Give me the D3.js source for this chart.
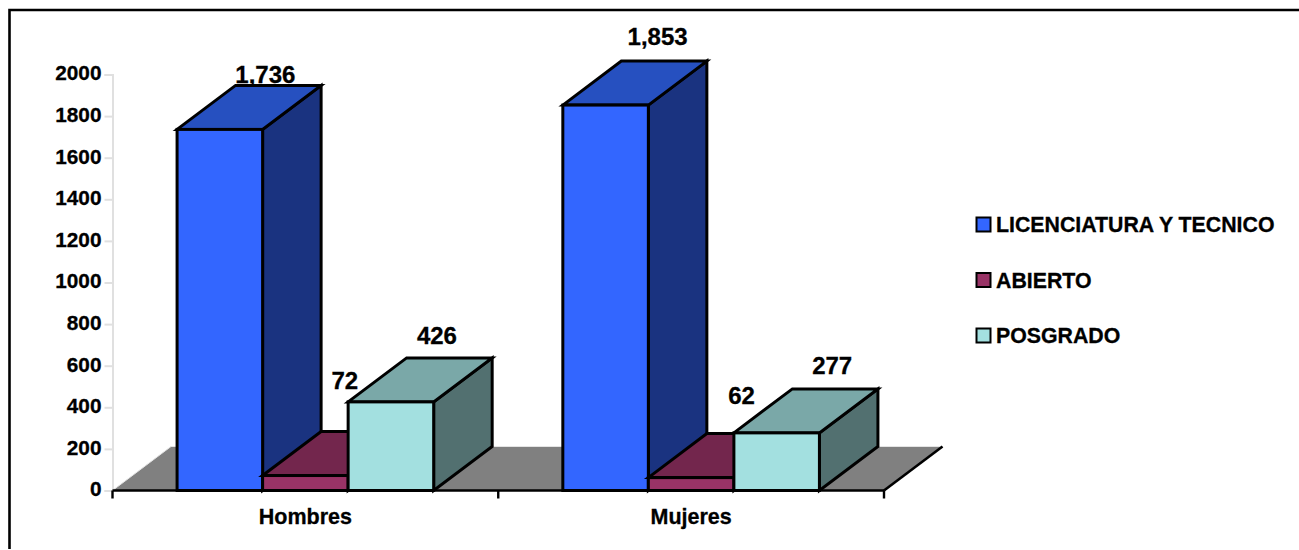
<!DOCTYPE html>
<html>
<head>
<meta charset="utf-8">
<script src="https://cdn.jsdelivr.net/npm/d3@7"></script>
<style>
  html, body { margin: 0; padding: 0; background: #fff; }
  svg { display: block; }
  text { font-family: "Liberation Sans", Arial, sans-serif; font-weight: bold; fill: #000; stroke: #000; stroke-width: 0.3px; }
</style>
</head>
<body>
<svg id="chart"></svg>
<script>
const categories = ["Hombres", "Mujeres"];
const seriesNames = ["LICENCIATURA Y TECNICO", "ABIERTO", "POSGRADO"];
const licenciatura = [1736, 1853];
const abierto = [72, 62];
const posgrado = [426, 277];
const valueTicks = [0, 200, 400, 600, 800, 1000, 1200, 1400, 1600, 1800, 2000];
const frontColors = ["#3366ff", "#993366", "#a3e0e0"];
const topColors = ["#2650c0", "#73264d", "#7aa8a8"];
const sideColors = ["#1a3380", "#5c1f3e", "#527070"];

// the data labels sit by hand in the original, so each has its own nudge
const labelShiftX = [[45.5, 39.5, 46], [52, 50.5, 55.5]];
const labelShiftY = [[-2, -43, -14], [-16, -30, -15]];

function main() {
    const width = 1299;
    const height = 550;
    const depthX = 58.5;
    const depthY = -44;

    const svg = d3.select("#chart").attr("width", width).attr("height", height);

    // only the top and left edges of the frame are in the picture
    svg.append("path")
        .attr("d", d3.line()([[9.5, 549], [9.5, 10], [1299, 10]]))
        .attr("fill", "none").attr("stroke", "#000").attr("stroke-width", 2.6);

    const yScale = d3.scaleLinear().domain([0, 2000]).range([490.5, 74.5]);
    const xScale = d3.scaleBand().domain(categories).range([112.5, 884]);
    const barScale = d3.scaleBand().domain(seriesNames)
        .range([0, xScale.bandwidth()]).paddingInner(0).paddingOuter(0.755);

    drawFloor(svg, xScale, yScale, depthX, depthY);
    drawYAxis(svg, yScale);
    drawBars(svg, xScale, barScale, yScale, depthX, depthY);
    drawXAxis(svg, xScale, yScale);
    drawLabels(svg, xScale, barScale, yScale, depthX, depthY);
    drawLegend(svg);
}

function drawFloor(svg, xScale, yScale, depthX, depthY) {
    const [x0, x1] = xScale.range();
    const y0 = yScale(0);
    svg.append("path")
        .attr("d", d3.line()([[x0, y0], [x0 + depthX, y0 + depthY], [x1 + depthX, y0 + depthY], [x1, y0]]) + "Z")
        .attr("fill", "#808080");
    svg.append("path")
        .attr("d", d3.line()([[x0, y0], [x0 + depthX, y0 + depthY], [x1 + depthX, y0 + depthY]]))
        .attr("fill", "none").attr("stroke", "#e4e4e4").attr("stroke-width", 1);
    svg.append("line")
        .attr("x1", x1).attr("y1", y0)
        .attr("x2", x1 + depthX).attr("y2", y0 + depthY)
        .attr("stroke", "#000").attr("stroke-width", 2.6);
}

function drawYAxis(svg, yScale) {
    const axis = d3.axisLeft(yScale).tickValues(valueTicks).tickFormat(d3.format("d"))
        .tickSizeInner(8).tickSizeOuter(8).tickPadding(3);
    const g = svg.append("g")
        .attr("class", "y axis")
        .attr("transform", "translate(112.5, 0)")
        .call(axis);
    g.selectAll("path, line").attr("stroke", "#e0e0e0").attr("stroke-width", 2);
    g.selectAll("text").attr("font-size", 20.8).attr("y", -1.2);
    g.attr("font-family", null).attr("font-size", null);
}

function drawBars(svg, xScale, barScale, yScale, depthX, depthY) {
    const seriesValues = [licenciatura, abierto, posgrado];
    const y0 = yScale(0);
    const w = barScale.bandwidth();

    categories.forEach((cat, c) => {
        seriesNames.forEach((name, s) => {
            const x = xScale(cat) + barScale(name);
            const y = yScale(seriesValues[s][c]);
            const g = svg.append("g")
                .attr("stroke", "#000").attr("stroke-width", 3).attr("stroke-linejoin", "miter");
            g.append("path")
                .attr("fill", sideColors[s])
                .attr("d", d3.line()([[x + w, y], [x + w + depthX, y + depthY], [x + w + depthX, y0 + depthY], [x + w, y0]]) + "Z");
            g.append("path")
                .attr("fill", topColors[s])
                .attr("d", d3.line()([[x, y], [x + depthX, y + depthY], [x + w + depthX, y + depthY], [x + w, y]]) + "Z");
            g.append("rect")
                .attr("x", x).attr("y", y)
                .attr("width", w).attr("height", y0 - y)
                .attr("fill", frontColors[s]);
        });
    });
}

function drawXAxis(svg, xScale, yScale) {
    const [x0, x1] = xScale.range();
    const y0 = yScale(0);
    const mid = (x0 + x1) / 2;
    const g = svg.append("g").attr("class", "x axis");
    g.append("line")
        .attr("x1", x0).attr("x2", x1).attr("y1", y0).attr("y2", y0)
        .attr("stroke", "#000").attr("stroke-width", 2.6);
    g.selectAll(".tick").data([x0, mid, x1]).enter().append("line")
        .attr("x1", d => d).attr("x2", d => d)
        .attr("y1", y0).attr("y2", y0 + 8)
        .attr("stroke", "#000").attr("stroke-width", 2.4);
    g.selectAll("text").data(categories).enter().append("text")
        .attr("x", d => xScale(d) + xScale.bandwidth() / 2)
        .attr("y", 524)
        .attr("text-anchor", "middle")
        .attr("font-size", 21.5)
        .text(d => d);
}

function drawLabels(svg, xScale, barScale, yScale, depthX, depthY) {
    const seriesValues = [licenciatura, abierto, posgrado];
    const fmt = d3.format(",d");
    categories.forEach((cat, c) => {
        seriesNames.forEach((name, s) => {
            const v = seriesValues[s][c];
            svg.append("text")
                .attr("x", xScale(cat) + barScale(name) + barScale.bandwidth() / 2 + labelShiftX[c][s])
                .attr("y", yScale(v) + depthY + labelShiftY[c][s])
                .attr("text-anchor", "middle")
                .attr("font-size", 24)
                .text(fmt(v));
        });
    });
}

function drawLegend(svg) {
    const legendY = d3.scalePoint().domain(seriesNames).range([224.5, 335.5]);
    const g = svg.append("g").attr("class", "legend");
    seriesNames.forEach((name, s) => {
        g.append("rect")
            .attr("x", 976.5).attr("y", legendY(name) - 7)
            .attr("width", 14).attr("height", 14)
            .attr("fill", frontColors[s])
            .attr("stroke", "#000").attr("stroke-width", 2);
        g.append("text")
            .attr("x", 996).attr("y", legendY(name) + 7.5)
            .attr("font-size", 21.3)
            .text(name);
    });
}

main();
</script>
</body>
</html>
